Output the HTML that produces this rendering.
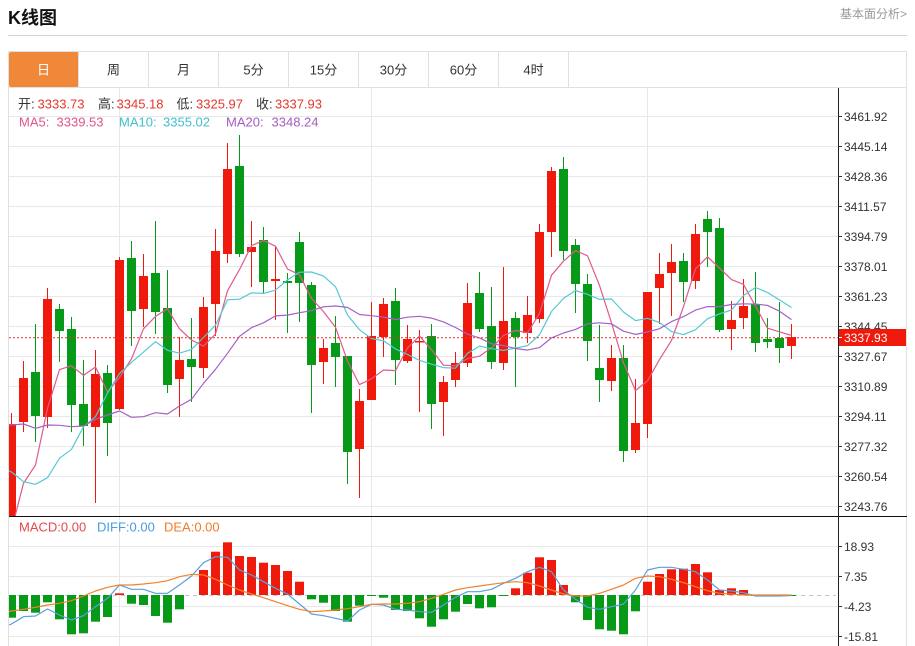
<!DOCTYPE html>
<html><head><meta charset="utf-8"><style>
html,body{margin:0;padding:0;background:#fff;}
svg{display:block;font-family:"Liberation Sans","Noto Sans CJK SC",sans-serif;}
</style></head><body>
<svg width="915" height="646" viewBox="0 0 915 646" xmlns="http://www.w3.org/2000/svg">
<defs>
<clipPath id="cm"><rect x="9" y="88" width="829" height="428"/></clipPath>
<clipPath id="cd"><rect x="9" y="517" width="829" height="129"/></clipPath>
</defs>
<rect width="915" height="646" fill="#fff"/>
<!-- header -->
<text x="8" y="24" font-size="18" font-weight="bold" fill="#111">K线图</text>
<text x="907" y="18" font-size="12" fill="#999" text-anchor="end">基本面分析&gt;</text>
<line x1="8" y1="35.5" x2="907" y2="35.5" stroke="#d4d4d4"/>
<!-- tabs -->
<rect x="8.5" y="51.5" width="898" height="36" fill="#fff" stroke="#e0e0e0"/>
<rect x="9" y="52" width="69.5" height="35" fill="#f0883a" rx="2"/>
<g stroke="#e0e0e0">
<line x1="78.5" y1="52" x2="78.5" y2="87"/><line x1="148.5" y1="52" x2="148.5" y2="87"/><line x1="218.5" y1="52" x2="218.5" y2="87"/><line x1="288.5" y1="52" x2="288.5" y2="87"/><line x1="358.5" y1="52" x2="358.5" y2="87"/><line x1="428.5" y1="52" x2="428.5" y2="87"/><line x1="498.5" y1="52" x2="498.5" y2="87"/><line x1="568.5" y1="52" x2="568.5" y2="87"/>
</g>
<g font-size="13" text-anchor="middle" fill="#333">
<text x="43.5" y="74.5" fill="#fff">日</text><text x="113.5" y="74.5">周</text><text x="183.5" y="74.5">月</text><text x="253.5" y="74.5">5分</text><text x="323.5" y="74.5">15分</text><text x="393.5" y="74.5">30分</text><text x="463.5" y="74.5">60分</text><text x="533.5" y="74.5">4时</text>
</g>
<!-- frame -->
<line x1="8.5" y1="87" x2="8.5" y2="646" stroke="#e0e0e0"/>
<line x1="906.5" y1="87" x2="906.5" y2="646" stroke="#e0e0e0"/>
<!-- grid main -->
<g stroke="#e8e8e8">
<line x1="9" y1="116.5" x2="838" y2="116.5"/><line x1="9" y1="146.5" x2="838" y2="146.5"/><line x1="9" y1="176.5" x2="838" y2="176.5"/><line x1="9" y1="206.5" x2="838" y2="206.5"/><line x1="9" y1="236.5" x2="838" y2="236.5"/><line x1="9" y1="266.5" x2="838" y2="266.5"/><line x1="9" y1="296.5" x2="838" y2="296.5"/><line x1="9" y1="326.5" x2="838" y2="326.5"/><line x1="9" y1="356.5" x2="838" y2="356.5"/><line x1="9" y1="386.5" x2="838" y2="386.5"/><line x1="9" y1="416.5" x2="838" y2="416.5"/><line x1="9" y1="446.5" x2="838" y2="446.5"/><line x1="9" y1="476.5" x2="838" y2="476.5"/><line x1="9" y1="506.5" x2="838" y2="506.5"/>
<line x1="9" y1="546.5" x2="838" y2="546.5"/><line x1="9" y1="576.5" x2="838" y2="576.5"/><line x1="9" y1="606.5" x2="838" y2="606.5"/><line x1="9" y1="636.5" x2="838" y2="636.5"/>
<line x1="119.5" y1="88" x2="119.5" y2="646"/><line x1="371.5" y1="88" x2="371.5" y2="646"/><line x1="647.5" y1="88" x2="647.5" y2="646"/>
</g>
<!-- info text -->
<g font-size="13">
<text y="108.5"><tspan x="18" fill="#333">开:</tspan><tspan x="37.5" fill="#e5372b">3333.73</tspan><tspan x="98" fill="#333">高:</tspan><tspan x="116.5" fill="#e5372b">3345.18</tspan><tspan x="176.5" fill="#333">低:</tspan><tspan x="196" fill="#e5372b">3325.97</tspan><tspan x="256" fill="#333">收:</tspan><tspan x="275" fill="#e5372b">3337.93</tspan></text>
<text y="126.5"><tspan x="19" fill="#e0558c">MA5:</tspan><tspan x="56.5" fill="#e0558c">3339.53</tspan><tspan x="119" fill="#3fc0cc">MA10:</tspan><tspan x="163" fill="#3fc0cc">3355.02</tspan><tspan x="226" fill="#a35cc0">MA20:</tspan><tspan x="271.5" fill="#a35cc0">3348.24</tspan></text>
</g>
<!-- candles -->
<g clip-path="url(#cm)">
<g fill="#f01a0c">
<rect x="11" y="413" width="1" height="103"/><rect x="7" y="424" width="9" height="92"/>
<rect x="23" y="361" width="1" height="71"/><rect x="19" y="378" width="9" height="44"/>
<rect x="47" y="288" width="1" height="140"/><rect x="43" y="299" width="9" height="118"/>
<rect x="95" y="350" width="1" height="153"/><rect x="91" y="374" width="9" height="53"/>
<rect x="119" y="257" width="1" height="153"/><rect x="115" y="260" width="9" height="149"/>
<rect x="143" y="254" width="1" height="73"/><rect x="139" y="276" width="9" height="33"/>
<rect x="179" y="337" width="1" height="80"/><rect x="175" y="360" width="9" height="19"/>
<rect x="203" y="297" width="1" height="81"/><rect x="199" y="307" width="9" height="61"/>
<rect x="215" y="229" width="1" height="107"/><rect x="211" y="251" width="9" height="53"/>
<rect x="227" y="143" width="1" height="120"/><rect x="223" y="169" width="9" height="85"/>
<rect x="251" y="221" width="1" height="66"/><rect x="247" y="247" width="9" height="5"/>
<rect x="275" y="247" width="1" height="73"/><rect x="271" y="279" width="9" height="2"/>
<rect x="323" y="339" width="1" height="45"/><rect x="319" y="348" width="9" height="14"/>
<rect x="359" y="389" width="1" height="109"/><rect x="355" y="401" width="9" height="48"/>
<rect x="371" y="302" width="1" height="98"/><rect x="367" y="336" width="9" height="64"/>
<rect x="383" y="298" width="1" height="59"/><rect x="379" y="304" width="9" height="33"/>
<rect x="407" y="325" width="1" height="38"/><rect x="403" y="339" width="9" height="22"/>
<rect x="419" y="330" width="1" height="82"/><rect x="415" y="341" width="9" height="1.5"/>
<rect x="443" y="376" width="1" height="60"/><rect x="439" y="382" width="9" height="20"/>
<rect x="455" y="352" width="1" height="35"/><rect x="451" y="363" width="9" height="17"/>
<rect x="467" y="283" width="1" height="84"/><rect x="463" y="303" width="9" height="60"/>
<rect x="503" y="267" width="1" height="103"/><rect x="499" y="321" width="9" height="42"/>
<rect x="527" y="296" width="1" height="47"/><rect x="523" y="315" width="9" height="18"/>
<rect x="539" y="224" width="1" height="99"/><rect x="535" y="232" width="9" height="87"/>
<rect x="551" y="167" width="1" height="90"/><rect x="547" y="171" width="9" height="61"/>
<rect x="611" y="345" width="1" height="46"/><rect x="607" y="358" width="9" height="23"/>
<rect x="635" y="379" width="1" height="74"/><rect x="631" y="423" width="9" height="27"/>
<rect x="647" y="292" width="1" height="146"/><rect x="643" y="292" width="9" height="132"/>
<rect x="659" y="253" width="1" height="71"/><rect x="655" y="274" width="9" height="14"/>
<rect x="671" y="244" width="1" height="72"/><rect x="667" y="262" width="9" height="11"/>
<rect x="695" y="224" width="1" height="65"/><rect x="691" y="234" width="9" height="47"/>
<rect x="731" y="301" width="1" height="49"/><rect x="727" y="320" width="9" height="9"/>
<rect x="743" y="279" width="1" height="50"/><rect x="739" y="306" width="9" height="12"/>
<rect x="791" y="324" width="1" height="35"/><rect x="787" y="337" width="9" height="9"/>
</g>
<g fill="#079a18">
<rect x="35" y="324" width="1" height="118"/><rect x="31" y="372" width="9" height="44"/>
<rect x="59" y="304" width="1" height="58"/><rect x="55" y="309" width="9" height="22"/>
<rect x="71" y="317" width="1" height="115"/><rect x="67" y="329" width="9" height="76"/>
<rect x="83" y="360" width="1" height="86"/><rect x="79" y="404" width="9" height="22"/>
<rect x="107" y="365" width="1" height="91"/><rect x="103" y="373" width="9" height="50"/>
<rect x="131" y="241" width="1" height="105"/><rect x="127" y="258" width="9" height="53"/>
<rect x="155" y="221" width="1" height="113"/><rect x="151" y="273" width="9" height="39"/>
<rect x="167" y="270" width="1" height="123"/><rect x="163" y="308" width="9" height="77"/>
<rect x="191" y="318" width="1" height="84"/><rect x="187" y="359" width="9" height="8"/>
<rect x="239" y="135" width="1" height="122"/><rect x="235" y="166" width="9" height="88"/>
<rect x="263" y="227" width="1" height="66"/><rect x="259" y="240" width="9" height="42"/>
<rect x="287" y="273" width="1" height="60"/><rect x="283" y="281" width="9" height="2"/>
<rect x="299" y="232" width="1" height="90"/><rect x="295" y="242" width="9" height="41"/>
<rect x="311" y="282" width="1" height="131"/><rect x="307" y="285" width="9" height="80"/>
<rect x="335" y="316" width="1" height="71"/><rect x="331" y="343" width="9" height="14"/>
<rect x="347" y="356" width="1" height="128"/><rect x="343" y="356" width="9" height="96"/>
<rect x="395" y="288" width="1" height="97"/><rect x="391" y="301" width="9" height="59"/>
<rect x="431" y="324" width="1" height="105"/><rect x="427" y="336" width="9" height="68"/>
<rect x="479" y="272" width="1" height="60"/><rect x="475" y="293" width="9" height="36"/>
<rect x="491" y="287" width="1" height="82"/><rect x="487" y="326" width="9" height="36"/>
<rect x="515" y="312" width="1" height="75"/><rect x="511" y="318" width="9" height="19"/>
<rect x="563" y="157" width="1" height="103"/><rect x="559" y="169" width="9" height="82"/>
<rect x="575" y="239" width="1" height="74"/><rect x="571" y="245" width="9" height="39"/>
<rect x="587" y="274" width="1" height="87"/><rect x="583" y="284" width="9" height="57"/>
<rect x="599" y="325" width="1" height="77"/><rect x="595" y="368" width="9" height="12"/>
<rect x="623" y="345" width="1" height="117"/><rect x="619" y="358" width="9" height="93"/>
<rect x="683" y="253" width="1" height="49"/><rect x="679" y="261" width="9" height="21"/>
<rect x="707" y="211" width="1" height="56"/><rect x="703" y="219" width="9" height="13"/>
<rect x="719" y="218" width="1" height="114"/><rect x="715" y="228" width="9" height="102"/>
<rect x="755" y="272" width="1" height="80"/><rect x="751" y="304" width="9" height="39"/>
<rect x="767" y="318" width="1" height="30"/><rect x="763" y="339" width="9" height="3"/>
<rect x="779" y="302" width="1" height="61"/><rect x="775" y="338" width="9" height="10"/>
</g>
<g fill="none" stroke-width="1.2" stroke-linejoin="round">
<polyline stroke="#df5a8f" points="11.5,530 23.5,483.3 35.5,465 47.5,408.3 59.5,369.6 71.5,365.8 83.5,375.4 95.5,367 107.5,391.8 119.5,377.6 131.5,358.8 143.5,328.8 155.5,316.4 167.5,308.8 179.5,328.8 191.5,340 203.5,346.2 215.5,334 227.5,290.8 239.5,269.6 251.5,245.6 263.5,240.6 275.5,246.2 287.5,269 299.5,274.8 311.5,298.4 323.5,311.6 335.5,327.2 347.5,361 359.5,384.6 371.5,378.8 383.5,370 395.5,370.6 407.5,348 419.5,336 431.5,349.6 443.5,365.2 455.5,365.8 467.5,358.6 479.5,356.2 491.5,347.8 503.5,335.6 515.5,330.4 527.5,332.8 539.5,313.4 551.5,275.2 563.5,261.2 575.5,250.6 587.5,255.8 599.5,285.4 611.5,322.8 623.5,362.8 635.5,390.6 647.5,380.8 659.5,359.6 671.5,340.4 683.5,306.6 695.5,268.8 707.5,256.8 719.5,268 731.5,279.6 743.5,284.4 755.5,306.2 767.5,328.2 779.5,331.8 791.5,335.4"/>
<polyline stroke="#56c8d4" points="9,471 11.5,472 23.5,481.7 35.5,484.3 47.5,477.7 59.5,458.3 71.5,449.3 83.5,426.7 95.5,416.7 107.5,393 119.5,373.6 131.5,362.3 143.5,352.1 155.5,341.7 167.5,350.3 179.5,353.2 191.5,349.4 203.5,337.5 215.5,325.2 227.5,299.8 239.5,299.2 251.5,292.8 263.5,293.4 275.5,290.1 287.5,279.9 299.5,272.2 311.5,272 323.5,276.1 335.5,286.7 347.5,315 359.5,329.7 371.5,338.6 383.5,340.8 395.5,348.9 407.5,354.5 419.5,360.3 431.5,364.2 443.5,367.6 455.5,368.2 467.5,353.3 479.5,346.1 491.5,348.7 503.5,350.4 515.5,348.1 527.5,345.7 539.5,334.8 551.5,311.5 563.5,298.4 575.5,290.5 587.5,294.3 599.5,299.4 611.5,299 623.5,312 635.5,320.6 647.5,318.3 659.5,322.5 671.5,331.6 683.5,334.7 695.5,329.7 707.5,318.8 719.5,313.8 731.5,310 743.5,295.5 755.5,287.5 767.5,292.5 779.5,299.9 791.5,307.5"/>
<polyline stroke="#a561c4" points="9,425 11.5,425 23.5,424 35.5,428.3 47.5,425 59.5,425.3 71.5,426.7 83.5,426 95.5,419.3 107.5,415 119.5,411 131.5,417.3 143.5,416.7 155.5,412.7 167.5,414 179.5,406 191.5,399.3 203.5,383.3 215.5,369.3 227.5,353.3 239.5,336.4 251.5,327.6 263.5,322.8 275.5,315.9 287.5,315.1 299.5,312.7 311.5,310.7 323.5,306.8 335.5,306 347.5,307.4 359.5,314.5 371.5,315.7 383.5,317.1 395.5,319.5 407.5,317.2 419.5,316.3 431.5,318.1 443.5,321.9 455.5,327.5 467.5,334.2 479.5,337.9 491.5,343.7 503.5,345.6 515.5,348.5 527.5,350.1 539.5,347.6 551.5,337.9 563.5,333 575.5,329.4 587.5,323.8 599.5,322.8 611.5,323.9 623.5,331.2 635.5,334.4 647.5,332 659.5,328.7 671.5,321.6 683.5,316.6 695.5,310.1 707.5,306.6 719.5,306.6 731.5,304.5 743.5,303.8 755.5,304.1 767.5,305.4 779.5,311.2 791.5,319.6"/>
</g>
<line x1="9" y1="337.7" x2="838" y2="337.7" stroke="#e8332a" stroke-dasharray="2,2"/>
</g>
<!-- MACD panel -->
<g clip-path="url(#cd)">
<line x1="9" y1="595.5" x2="836" y2="595.5" stroke="#b9c9d9" stroke-dasharray="4,4"/>
<g fill="#f01a0c">
<rect x="115" y="593.3" width="9" height="1.7"/>
<rect x="199" y="570" width="9" height="25"/><rect x="211" y="551.7" width="9" height="43.3"/><rect x="223" y="542.3" width="9" height="52.7"/><rect x="235" y="556" width="9" height="39"/><rect x="247" y="557" width="9" height="38"/><rect x="259" y="562.7" width="9" height="32.3"/><rect x="271" y="565" width="9" height="30"/><rect x="283" y="571" width="9" height="24"/><rect x="295" y="581.7" width="9" height="13.3"/>
<rect x="511" y="588.3" width="9" height="6.7"/><rect x="523" y="572.7" width="9" height="22.3"/><rect x="535" y="557.3" width="9" height="37.7"/><rect x="547" y="560" width="9" height="35"/><rect x="559" y="585" width="9" height="10"/>
<rect x="643" y="581.7" width="9" height="13.3"/><rect x="655" y="574" width="9" height="21"/><rect x="667" y="569.3" width="9" height="25.7"/><rect x="679" y="568.7" width="9" height="26.3"/><rect x="691" y="564" width="9" height="31"/><rect x="703" y="572.3" width="9" height="22.7"/><rect x="715" y="590" width="9" height="5"/><rect x="727" y="588.3" width="9" height="6.7"/><rect x="739" y="590" width="9" height="5"/>
</g>
<g fill="#079a18">
<rect x="7" y="595" width="9" height="22.7"/><rect x="19" y="595" width="9" height="16"/><rect x="31" y="595" width="9" height="17.7"/><rect x="43" y="595" width="9" height="7.3"/><rect x="55" y="595" width="9" height="24.3"/><rect x="67" y="595" width="9" height="39.3"/><rect x="79" y="595" width="9" height="38.3"/><rect x="91" y="595" width="9" height="26.7"/><rect x="103" y="595" width="9" height="22"/>
<rect x="127" y="595" width="9" height="8.7"/><rect x="139" y="595" width="9" height="10"/><rect x="151" y="595" width="9" height="21"/><rect x="163" y="595" width="9" height="27.7"/><rect x="175" y="595" width="9" height="14.3"/>
<rect x="307" y="595" width="9" height="4.3"/><rect x="319" y="595" width="9" height="7.7"/><rect x="331" y="595" width="9" height="16"/><rect x="343" y="595" width="9" height="26.7"/><rect x="355" y="595" width="9" height="10.7"/><rect x="367" y="595" width="9" height="1"/><rect x="379" y="595" width="9" height="2.7"/><rect x="391" y="595" width="9" height="15"/><rect x="403" y="595" width="9" height="16"/><rect x="415" y="595" width="9" height="23.3"/><rect x="427" y="595" width="9" height="31.7"/><rect x="439" y="595" width="9" height="24.3"/><rect x="451" y="595" width="9" height="16.7"/><rect x="463" y="595" width="9" height="9"/><rect x="475" y="595" width="9" height="13.3"/><rect x="487" y="595" width="9" height="12.3"/><rect x="499" y="595" width="9" height="1"/>
<rect x="571" y="595" width="9" height="7.3"/><rect x="583" y="595" width="9" height="25"/><rect x="595" y="595" width="9" height="34.3"/><rect x="607" y="595" width="9" height="35.7"/><rect x="619" y="595" width="9" height="39.3"/><rect x="631" y="595" width="9" height="16.3"/>
<rect x="751" y="595" width="9" height="1"/><rect x="763" y="595" width="9" height="1"/><rect x="775" y="595" width="9" height="1"/><rect x="787" y="595" width="9" height="1"/>
</g>
<g fill="none" stroke-width="1.2" stroke-linejoin="round">
<polyline stroke="#5aa0dc" points="9,625 11.5,624 23.5,616.7 35.5,616 47.5,609 59.5,615 71.5,620 83.5,615.7 95.5,606.7 107.5,598.3 119.5,585 131.5,589.3 143.5,589.3 155.5,593.3 167.5,593.3 179.5,585 191.5,576 203.5,562.7 215.5,556.7 227.5,557.3 239.5,570 251.5,575 263.5,581.7 275.5,588.3 287.5,594 299.5,604 311.5,614 323.5,615.7 335.5,618.3 347.5,621 359.5,610 371.5,604.3 383.5,605 395.5,609.3 407.5,610 419.5,611.7 431.5,612.3 443.5,605 455.5,597.3 467.5,591.7 479.5,591.7 491.5,589.3 503.5,583.3 515.5,578.3 527.5,571.7 539.5,567.3 551.5,571.7 563.5,590 575.5,599.3 587.5,607.3 599.5,609.3 611.5,606.7 623.5,604 635.5,590 647.5,570 659.5,567.3 671.5,567.3 683.5,569.3 695.5,571.7 707.5,580 719.5,590 731.5,591 743.5,592.7 755.5,596 767.5,596 779.5,596 791.5,595.5"/>
<polyline stroke="#f0822e" points="9,611.5 11.5,611 23.5,609.3 35.5,607.3 47.5,605 59.5,603.3 71.5,600.7 83.5,596 95.5,591 107.5,587.3 119.5,585 131.5,585 143.5,584 155.5,582.7 167.5,580.7 179.5,576.7 191.5,574.3 203.5,575 215.5,579.3 227.5,585 239.5,590 251.5,594 263.5,597.7 275.5,601.7 287.5,605.7 299.5,609.3 311.5,611.7 323.5,611 335.5,610 347.5,608.7 359.5,606.7 371.5,604.3 383.5,604 395.5,604 407.5,603.3 419.5,601.7 431.5,598.3 443.5,594.3 455.5,590 467.5,587.7 479.5,586 491.5,584.3 503.5,582.7 515.5,581.7 527.5,582.7 539.5,586 551.5,590 563.5,594 575.5,596 587.5,596 599.5,593.3 611.5,589.3 623.5,585 635.5,578.3 647.5,576 659.5,576.7 671.5,579.3 683.5,582.7 695.5,586.7 707.5,590.7 719.5,593.3 731.5,594 743.5,595 755.5,595 767.5,595 779.5,595 791.5,595"/>
</g>
</g>
<g font-size="13">
<text x="19" y="531.5" fill="#e5484d">MACD:0.00</text>
<text x="97" y="531.5" fill="#4a9be0">DIFF:0.00</text>
<text x="164" y="531.5" fill="#f07c28">DEA:0.00</text>
</g>
<!-- axes -->
<line x1="838.5" y1="88" x2="838.5" y2="646" stroke="#222"/>
<line x1="9" y1="516.5" x2="907" y2="516.5" stroke="#111"/>
<g stroke="#333">
<line x1="838" y1="116.5" x2="842" y2="116.5"/><line x1="838" y1="146.5" x2="842" y2="146.5"/><line x1="838" y1="176.5" x2="842" y2="176.5"/><line x1="838" y1="206.5" x2="842" y2="206.5"/><line x1="838" y1="236.5" x2="842" y2="236.5"/><line x1="838" y1="266.5" x2="842" y2="266.5"/><line x1="838" y1="296.5" x2="842" y2="296.5"/><line x1="838" y1="326.5" x2="842" y2="326.5"/><line x1="838" y1="356.5" x2="842" y2="356.5"/><line x1="838" y1="386.5" x2="842" y2="386.5"/><line x1="838" y1="416.5" x2="842" y2="416.5"/><line x1="838" y1="446.5" x2="842" y2="446.5"/><line x1="838" y1="476.5" x2="842" y2="476.5"/><line x1="838" y1="506.5" x2="842" y2="506.5"/>
<line x1="838" y1="546.5" x2="842" y2="546.5"/><line x1="838" y1="576.5" x2="842" y2="576.5"/><line x1="838" y1="606.5" x2="842" y2="606.5"/><line x1="838" y1="636.5" x2="842" y2="636.5"/>
</g>
<g font-size="12" fill="#333">
<text x="844" y="121">3461.92</text><text x="844" y="151">3445.14</text><text x="844" y="181">3428.36</text><text x="844" y="211">3411.57</text><text x="844" y="241">3394.79</text><text x="844" y="271">3378.01</text><text x="844" y="301">3361.23</text><text x="844" y="331">3344.45</text><text x="844" y="361">3327.67</text><text x="844" y="391">3310.89</text><text x="844" y="421">3294.11</text><text x="844" y="451">3277.32</text><text x="844" y="481">3260.54</text><text x="844" y="511">3243.76</text>
<text x="844" y="551">18.93</text><text x="844" y="581">7.35</text><text x="844" y="611">-4.23</text><text x="844" y="641">-15.81</text>
</g>
<rect x="839" y="329" width="67" height="17" fill="#f01a0c"/>
<line x1="839" y1="337.5" x2="842" y2="337.5" stroke="#fff"/>
<text x="844" y="342" font-size="12" fill="#fff">3337.93</text>
</svg>
</body></html>
